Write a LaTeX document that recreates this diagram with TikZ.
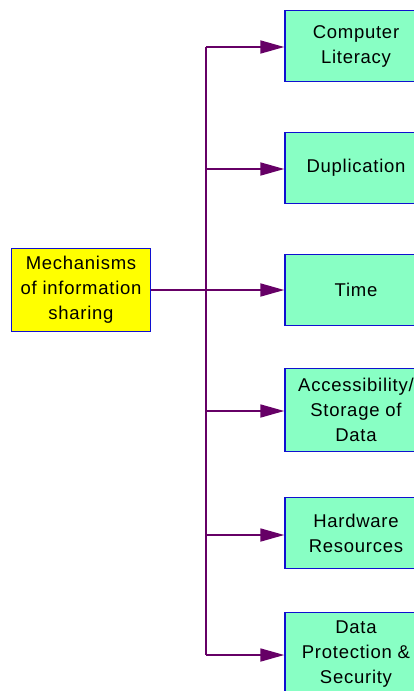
\documentclass[tikz,border=0pt]{standalone}
\usepackage{fontspec}
\setmainfont[LetterSpace=4]{Liberation Sans}
\usetikzlibrary{arrows.meta}
\definecolor{branch}{HTML}{660066}
\definecolor{edge}{HTML}{1010D0}
\definecolor{mint}{HTML}{88FFC4}
\definecolor{hub}{HTML}{FFFF00}
\tikzset{
  x=1pt, y=-1pt,
  box/.style={draw=edge, line width=1.4pt, inner sep=0pt, align=center,
    font=\fontsize{18.5}{25}\selectfont, text=black},
  topic/.style={box, fill=mint, minimum width=142pt},
  root/.style={box, fill=hub, minimum width=139pt, minimum height=83pt},
  link/.style={draw=branch, line width=1.8pt},
  arr/.style={link, -{Triangle[length=24pt,width=13pt]}}
}
\begin{document}
\begin{tikzpicture}
\useasboundingbox (0,0) rectangle (414,691);
\clip (0,0) rectangle (414,691);
% central topic
\node[root] (src) at (81,290) {Mechanisms\\of information\\sharing};
% branches
\node[topic, minimum height=71pt] (c1) at (356,46) {Computer\\Literacy};
\node[topic, minimum height=71pt] (c2) at (356,168) {Duplication};
\node[topic, minimum height=71pt] (c3) at (356,290) {Time};
\node[topic, minimum height=83pt] (c4) at (356,410) {Accessibility/\\Storage of\\Data};
\node[topic, minimum height=71pt] (c5) at (356,533) {Hardware\\Resources};
\node[topic, minimum height=83pt] (c6) at (356,654) {Data\\Protection \&\\Security};
% spine junctions
\coordinate (j1) at (206,47);
\coordinate (j2) at (206,169);
\coordinate (j4) at (206,411);
\coordinate (j5) at (206,535);
\coordinate (j6) at (206,655);
\draw[link] (j1) -- (j6);
\draw[arr] (src.east |- c3.west) -- (c3.west);
\draw[arr] (j1) -- (j1 -| c1.west);
\draw[arr] (j2) -- (j2 -| c2.west);
\draw[arr] (j4) -- (j4 -| c4.west);
\draw[arr] (j5) -- (j5 -| c5.west);
\draw[arr] (j6) -- (j6 -| c6.west);
\end{tikzpicture}
\end{document}
